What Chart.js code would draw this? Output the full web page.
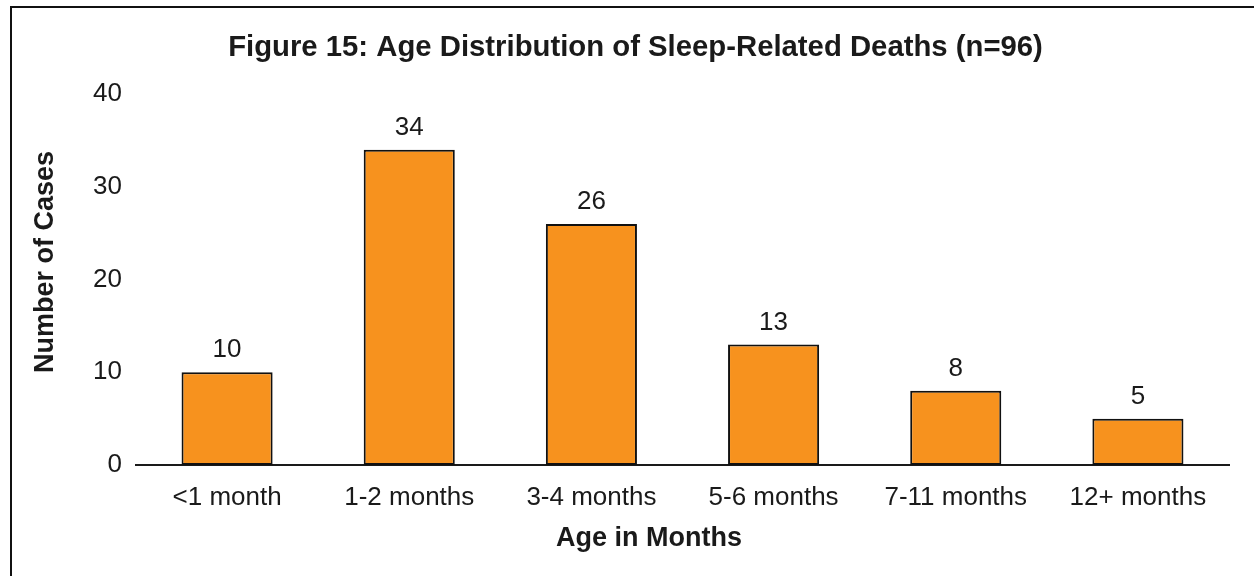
<!DOCTYPE html>
<html>
<head>
<meta charset="utf-8">
<script src="https://cdn.jsdelivr.net/npm/chart.js"></script>
<style>
body { margin: 0; background: #fff; font-family: "Liberation Sans", Arial, sans-serif; }
#wrap { position: relative; width: 1254px; height: 576px; }
#frame { position: absolute; left: 10px; top: 6px; right: -4px; bottom: -4px; border-left: 2px solid #111; border-top: 2px solid #111; pointer-events: none; }
canvas { position: absolute; left: 0; top: 0; }
</style>
</head>
<body>
<div id="wrap">
<canvas id="chart" width="1254" height="576"></canvas>
<div id="frame"></div>
</div>
<script>
// данные графика
const categories = ["<1 month", "1-2 months", "3-4 months", "5-6 months", "7-11 months", "12+ months"];
const cases = [10, 34, 26, 13, 8, 5];
const yTicks = [0, 10, 20, 30, 40];

const chartTitle = "Figure 15: Age Distribution of Sleep-Related Deaths (n=96)";
const xTitle = "Age in Months";
const yTitle = "Number of Cases";

const FONT = "'Liberation Sans', Arial, sans-serif";
const TEXT = "#1a1a1a";

// подписи значений над столбцами и названия осей
const labelsPlugin = {
  id: "labels",
  afterDatasetsDraw(chart) {
    const ctx = chart.ctx;
    ctx.save();
    ctx.fillStyle = TEXT;
    ctx.textAlign = "center";
    ctx.textBaseline = "middle";
    ctx.font = "26px " + FONT;
    chart.getDatasetMeta(0).data.forEach((bar, i) => {
      ctx.fillText(String(cases[i]), bar.x, bar.y - 22);
    });
    ctx.font = "bold 27px " + FONT;
    ctx.fillText(xTitle, 649, 539);
    ctx.translate(46, 262);
    ctx.rotate(-Math.PI / 2);
    ctx.fillText(yTitle, 0, 0);
    ctx.restore();
  }
};

new Chart(document.getElementById("chart"), {
  type: "bar",
  data: {
    labels: categories,
    datasets: [{
      data: cases,
      backgroundColor: "#F7921E",
      borderColor: "#111",
      borderWidth: 2,
      borderSkipped: false,
      categoryPercentage: 1,
      barPercentage: 0.5
    }]
  },
  options: {
    responsive: false,
    animation: false,
    layout: { padding: { left: 42, right: 25, top: 0, bottom: 0 } },
    plugins: {
      legend: { display: false },
      tooltip: { enabled: false },
      title: {
        display: true,
        text: chartTitle,
        color: TEXT,
        font: { family: FONT, size: 29.3, weight: "bold" },
        padding: { top: 30, bottom: 29 }
      }
    },
    scales: {
      x: {
        grid: { display: false, drawTicks: false },
        border: { display: true, color: "#1a1a1a", width: 2 },
        ticks: { color: TEXT, font: { family: FONT, size: 26 }, padding: 17, maxRotation: 0, autoSkip: false },
        afterFit(scale) { scale.height = 111; }
      },
      y: {
        min: 0,
        max: 40,
        afterBuildTicks(scale) { scale.ticks = yTicks.map(v => ({ value: v })); },
        grid: { display: false, drawTicks: false },
        border: { display: false },
        ticks: { color: TEXT, font: { family: FONT, size: 26 }, padding: 14 },
        afterFit(scale) { scale.width = 94; }
      }
    }
  },
  plugins: [labelsPlugin]
});
</script>
</body>
</html>
